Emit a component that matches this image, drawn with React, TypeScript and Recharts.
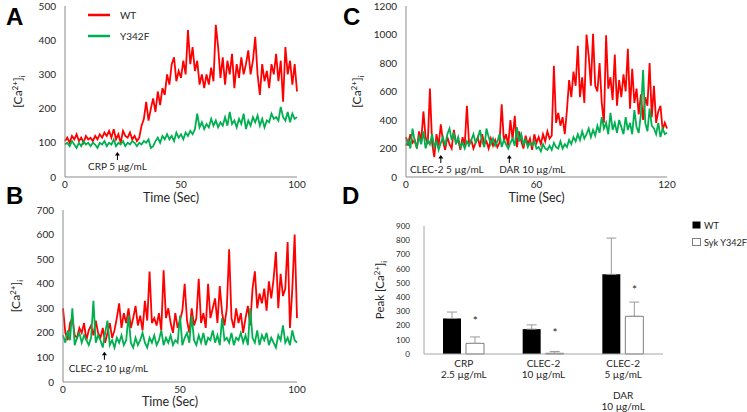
import React from "react";
import {
  LineChart, Line, XAxis, YAxis, ReferenceDot, Legend,
  BarChart, Bar, ErrorBar,
} from "recharts";

const FONT = "Lato, 'Liberation Sans', Arial, sans-serif";
const RED = "#ff0000";
const GREEN = "#00b050";
const AXIS = "#8a8a8a";
const INK = "#262626";

// A: CRP 5 µg/mL, one reading per second (0-100 s)
const crpWT = [
  105, 115, 100, 120, 110, 125, 105, 115, 100, 120, 110,
  115, 105, 120, 110, 125, 115, 130, 120, 135, 115,
  140, 110, 125, 100, 135, 120, 115, 130, 110, 120,
  105, 115, 150, 170, 220, 165, 200, 230, 190, 250,
  210, 260, 240, 300, 270, 330, 350, 280, 310, 290,
  340, 300, 430, 330, 380, 310, 340, 270, 300, 260,
  300, 270, 320, 280, 445, 380, 290, 350, 270, 340,
  300, 360, 260, 330, 290, 350, 300, 330, 370, 300,
  340, 410, 300, 240, 330, 280, 310, 260, 330, 300,
  360, 280, 340, 220, 380, 300, 340, 270, 330, 250,
];
const crpY342F = [
  95, 100, 90, 105, 95, 85, 100, 90, 105, 95, 100,
  90, 100, 95, 85, 100, 95, 105, 90, 100, 95,
  110, 90, 100, 95, 105, 90, 100, 95, 105, 100,
  90, 100, 95, 105, 100, 110, 85, 90, 105, 115,
  100, 120, 110, 125, 110, 120, 105, 130, 115, 125,
  110, 130, 120, 135, 125, 140, 185, 145, 160, 140,
  155, 145, 170, 150, 165, 145, 160, 150, 175, 150,
  190, 155, 165, 145, 170, 155, 185, 140, 165, 150,
  175, 160, 180, 150, 170, 145, 165, 160, 185, 170,
  175, 165, 205, 175, 165, 190, 160, 185, 170, 175,
];

// B: CLEC-2 10 µg/mL (0-100 s)
const clec10WT = [
  300, 200, 170, 240, 260, 190, 180, 220, 200, 240, 170,
  210, 230, 190, 250, 200, 180, 220, 160, 200, 240,
  180, 210, 260, 320, 220, 280, 240, 300, 220, 260,
  310, 230, 270, 210, 330, 250, 450, 240, 260, 230,
  280, 210, 455, 260, 300, 240, 200, 280, 220, 250,
  290, 400, 250, 200, 300, 230, 260, 420, 240, 280,
  220, 400, 260, 300, 340, 240, 390, 280, 230, 300,
  540, 260, 220, 300, 240, 280, 200, 260, 310, 230,
  380, 450, 300, 360, 320, 380, 290, 410, 340, 420,
  530, 300, 440, 350, 380, 570, 220, 380, 600, 260,
];
const clec10Y342F = [
  190, 160, 210, 170, 300, 150, 180, 200, 160, 190, 170,
  150, 180, 330, 160, 190, 170, 140, 200, 250, 150,
  170, 140, 180, 160, 190, 150, 170, 270, 160, 140,
  180, 150, 170, 200, 160, 140, 180, 160, 190, 150,
  170, 210, 150, 180, 160, 190, 150, 170, 160, 270,
  150, 180, 200, 160, 270, 170, 150, 190, 160, 200,
  150, 180, 170, 210, 160, 190, 150, 260, 170, 180,
  160, 200, 150, 180, 170, 200, 160, 190, 150, 300,
  180, 160, 210, 150, 190, 170, 200, 150, 180, 160,
  140, 190, 170, 230, 160, 180, 150, 210, 170, 160,
];

// C: CLEC-2 5 µg/mL then DAR 10 µg/mL (0-120 s)
const clecDarWT = [
  280, 220, 300, 240, 260, 200, 320, 250, 460, 280, 230,
  620, 240, 140, 300, 220, 370, 250, 190, 280, 230,
  200, 330, 240, 260, 190, 280, 220, 500, 230, 260,
  200, 240, 280, 210, 300, 230, 250, 200, 270, 220,
  260, 210, 240, 510, 250, 300, 220, 400, 260, 430,
  210, 320, 250, 200, 290, 230, 270, 190, 300, 240,
  280, 230, 300, 250, 320, 270, 290, 780, 380, 450,
  360, 420, 300, 470, 680, 560, 740, 640, 920, 560,
  700, 520, 1000, 850, 640, 1005, 640, 600, 800, 520,
  380, 995, 620, 700, 540, 860, 500, 680, 560, 720,
  600, 900, 480, 760, 520, 620, 440, 580, 400, 560,
  500, 800, 420, 640, 380, 460, 500, 330, 380, 340,
];
const clecDarY342F = [
  220, 260, 200, 340, 250, 210, 280, 230, 320, 200, 260,
  230, 300, 210, 250, 190, 240, 280, 220, 300, 340,
  260, 310, 230, 280, 210, 240, 200, 250, 220, 260,
  300, 240, 270, 330, 250, 210, 340, 280, 230, 270,
  220, 250, 300, 210, 260, 230, 200, 240, 270, 220,
  350, 250, 300, 230, 260, 210, 240, 220, 250, 200,
  210, 180, 230, 200, 190, 220, 190, 240, 210, 200,
  250, 200, 230, 210, 260, 230, 280, 250, 300, 260,
  320, 270, 300, 340, 280, 330, 290, 360, 310, 420,
  340, 380, 300, 450, 330, 380, 310, 400, 350, 300,
  420, 330, 380, 300, 470, 350, 310, 440, 750, 380,
  320, 480, 360, 340, 300, 380, 280, 340, 300, 310,
];

const xTicks100 = [0, 50, 100];
const xTicks120 = [0, 60, 120];
const yTicksA = [0, 100, 200, 300, 400, 500];
const yTicksB = [0, 100, 200, 300, 400, 500, 600, 700];
const yTicksC = [0, 200, 400, 600, 800, 1000, 1200];

const marksA = [{ t: 22.6, v: 73, text: "CRP 5 µg/mL", dx: 0 }];
const marksB = [{ t: 17.7, v: 123, text: "CLEC-2 10 µg/mL", dx: 4 }];
const marksC = [
  { t: 16, v: 154, text: "CLEC-2 5 µg/mL", dx: 6 },
  { t: 47.5, v: 154, text: "DAR 10 µg/mL", dx: 23 },
];

// D: peak [Ca2+]i
const peakGroups = ["CRP\n2.5 µg/mL", "CLEC-2\n10 µg/mL", "CLEC-2\n5 µg/mL\n\nDAR\n10 µg/mL"];
const peakWT = [250, 175, 560];
const peakWTErr = [45, 30, 255];
const peakY342F = [75, 5, 265];
const peakY342FErr = [45, 13, 100];
const starAt = [243, 165, 464];
const yTicksD = [0, 100, 200, 300, 400, 500, 600, 700, 800, 900];

const toRows = (wt: number[], mut: number[]) => wt.map((v, i) => ({ t: i, wt: v, mut: mut[i] }));

const peakRows = peakGroups.map((g, i) => ({
  group: g,
  wt: peakWT[i],
  wtErr: [0, peakWTErr[i]],
  mut: peakY342F[i],
  mutErr: [0, peakY342FErr[i]],
}));

const CaText = ({ x, y, prefix = "", size = 12 }: any) => (
  <text x={x} y={y} transform={`rotate(-90 ${x} ${y})`} textAnchor="middle"
    fontSize={size} fill={INK} fontFamily={FONT}>
    {prefix}[Ca<tspan dy={-4.5} fontSize={size * 0.68}>2+</tspan>
    <tspan dy={4.5}>]</tspan><tspan dy={2.5} fontSize={size * 0.68}>i</tspan>
  </text>
);

const arrowShape = (m: any, dy: number) => (p: any) => (
  <g>
    <line x1={p.cx} y1={p.cy + 2} x2={p.cx} y2={p.cy + 8} stroke="#000" strokeWidth={1} />
    <path d={`M${p.cx - 2.5} ${p.cy + 3.5} L${p.cx} ${p.cy} L${p.cx + 2.5} ${p.cy + 3.5} Z`} fill="#000" />
    <text x={p.cx + m.dx} y={p.cy + dy} textAnchor="middle" fontSize={10} fill={INK} fontFamily={FONT}>
      {m.text}
    </text>
  </g>
);

const LegendA = () => (
  <svg width={70} height={40} style={{ overflow: "visible", display: "block" }}>
    <line x1={0} y1={7} x2={22} y2={7} stroke={RED} strokeWidth={2.5} />
    <text x={32} y={10.5} fontSize={10} fill={INK} fontFamily={FONT}>WT</text>
    <line x1={0} y1={28} x2={22} y2={28} stroke={GREEN} strokeWidth={2.5} />
    <text x={32} y={31.5} fontSize={10} fill={INK} fontFamily={FONT}>Y342F</text>
  </svg>
);

const LegendD = () => (
  <svg width={54} height={28} style={{ overflow: "visible", display: "block" }}>
    <rect x={0.5} y={1.5} width={8} height={7} fill="#000" />
    <text x={12} y={8.5} fontSize={9.2} fill={INK} fontFamily={FONT}>WT</text>
    <rect x={0.5} y={18.5} width={8} height={7} fill="#fff" stroke="#7f7f7f" />
    <text x={12} y={25.5} fontSize={9.2} fill={INK} fontFamily={FONT}>Syk Y342F</text>
  </svg>
);

const PeakTick = ({ x, y, payload }: any) => {
  const lines = String(payload.value).split("\n");
  return (
    <text x={x} y={y} textAnchor="middle" fontSize={10} fill={INK} fontFamily={FONT}>
      {lines.map((l, i) => (
        <tspan key={i} x={x} dy={i === 0 ? 13 : l ? 11 : 10}>{l || " "}</tspan>
      ))}
    </text>
  );
};

const starShape = (p: any) => (
  <text x={p.cx + 11.5} y={p.cy + 6} textAnchor="middle" fontSize={12} fill={INK} fontFamily={FONT}>*</text>
);

function TimePanel(props: any) {
  const { left, top, width, height, margin, yWidth, xHeight, rows, xMax, xTicks, yMax, yTicks,
    marks, markDy, titleDx, titleDy, labelAt, legend } = props;
  return (
    <div style={{ position: "absolute", left, top }}>
      <LineChart width={width} height={height} data={rows} margin={margin}>
        <XAxis dataKey="t" type="number" domain={[0, xMax]} ticks={xTicks} stroke={AXIS}
          tickLine={false} tickSize={0} tickMargin={4} height={xHeight}
          tick={{ fontSize: 10, fill: INK, fontFamily: FONT }}
          label={{
            content: (p: any) => (
              <text x={p.viewBox.x + p.viewBox.width / 2 + titleDx} y={p.viewBox.y + titleDy}
                textAnchor="middle" fontSize={12.5} fill={INK} fontFamily={FONT}>Time (Sec)</text>
            ),
          }} />
        <YAxis type="number" domain={[0, yMax]} ticks={yTicks} stroke={AXIS} tickLine={false}
          tickSize={6} tickMargin={3} width={yWidth} interval={0}
          tick={{ fontSize: 10, fill: INK, fontFamily: FONT }}
          label={{
            content: (p: any) => (
              <CaText x={p.viewBox.x + labelAt + 4} y={p.viewBox.y + p.viewBox.height / 2} />
            ),
          }} />
        <Line dataKey="wt" stroke={RED} strokeWidth={1.8} dot={false} isAnimationActive={false} />
        <Line dataKey="mut" stroke={GREEN} strokeWidth={1.8} dot={false} isAnimationActive={false} />
        {marks.map((m: any, i: number) => (
          <ReferenceDot key={i} x={m.t} y={m.v} r={0} shape={arrowShape(m, markDy)} />
        ))}
        {legend && (
          <Legend layout="vertical" align="center" verticalAlign="middle" content={<LegendA />}
            wrapperStyle={{ left: 88, top: 8, width: 70 }} />
        )}
      </LineChart>
    </div>
  );
}

export default function App() {
  return (
    <div style={{ position: "absolute", left: 0, top: 0, width: 747, height: 412, background: "#fff", overflow: "hidden" }}>
      <TimePanel left={0} top={0} width={310} height={210} margin={{ top: 6, right: 13, bottom: 0, left: 0 }}
        yWidth={65} xHeight={33} rows={toRows(crpWT, crpY342F)} xMax={100} xTicks={xTicks100}
        yMax={500} yTicks={yTicksA} marks={marksA} markDy={18} titleDx={-10} titleDy={25} labelAt={18} legend />
      <TimePanel left={0} top={200} width={310} height={212} margin={{ top: 10, right: 13, bottom: 0, left: 0 }}
        yWidth={63} xHeight={30} rows={toRows(clec10WT, clec10Y342F)} xMax={100} xTicks={xTicks100}
        yMax={700} yTicks={yTicksB} marks={marksB} markDy={20} titleDx={-10} titleDy={24} labelAt={16} />
      <TimePanel left={340} top={0} width={340} height={210} margin={{ top: 6, right: 13, bottom: 0, left: 0 }}
        yWidth={66} xHeight={33} rows={toRows(clecDarWT, clecDarY342F)} xMax={120} xTicks={xTicks120}
        yMax={1200} yTicks={yTicksC} marks={marksC} markDy={18} titleDx={0} titleDy={25} labelAt={17} />

      <div style={{ position: "absolute", left: 340, top: 200 }}>
        <BarChart width={407} height={212} data={peakRows} margin={{ top: 26, right: 84, bottom: 0, left: 0 }}
          barGap={5}>
          <XAxis dataKey="group" stroke="#a6a6a6" tickLine={false} tickSize={0} tickMargin={0}
            height={58} interval={0} tick={<PeakTick />} />
          <YAxis type="number" domain={[0, 900]} ticks={yTicksD} stroke="#a6a6a6" tickLine={false}
            tickSize={6} tickMargin={8} width={84} interval={0}
            tick={{ fontSize: 8, fill: INK, fontFamily: FONT }}
            label={{
              content: (p: any) => (
                <CaText x={p.viewBox.x + 44} y={p.viewBox.y + p.viewBox.height / 2} prefix="Peak " size={11.5} />
              ),
            }} />
          <Bar dataKey="wt" fill="#000" barSize={18} isAnimationActive={false}>
            <ErrorBar dataKey="wtErr" width={5} stroke="#9a9a9a" strokeWidth={1} direction="y" isAnimationActive={false} />
          </Bar>
          <Bar dataKey="mut" fill="#fff" stroke="#7f7f7f" strokeWidth={1} barSize={18} isAnimationActive={false}>
            <ErrorBar dataKey="mutErr" width={5} stroke="#9a9a9a" strokeWidth={1} direction="y" isAnimationActive={false} />
          </Bar>
          {peakGroups.map((g, i) => (
            <ReferenceDot key={i} x={g} y={starAt[i]} r={0} shape={starShape} />
          ))}
          <Legend layout="vertical" align="center" verticalAlign="middle" content={<LegendD />}
            wrapperStyle={{ left: 352, top: 20, width: 54 }} />
        </BarChart>
      </div>

      <svg width={747} height={412} style={{ position: "absolute", left: 0, top: 0, pointerEvents: "none" }}>
        <g fontFamily="'Liberation Sans', Arial, sans-serif" fontWeight="bold" fontSize={24} fill="#000">
          <text x={6} y={25}>A</text>
          <text x={6} y={204}>B</text>
          <text x={343} y={25}>C</text>
          <text x={342} y={204}>D</text>
        </g>
      </svg>
    </div>
  );
}
